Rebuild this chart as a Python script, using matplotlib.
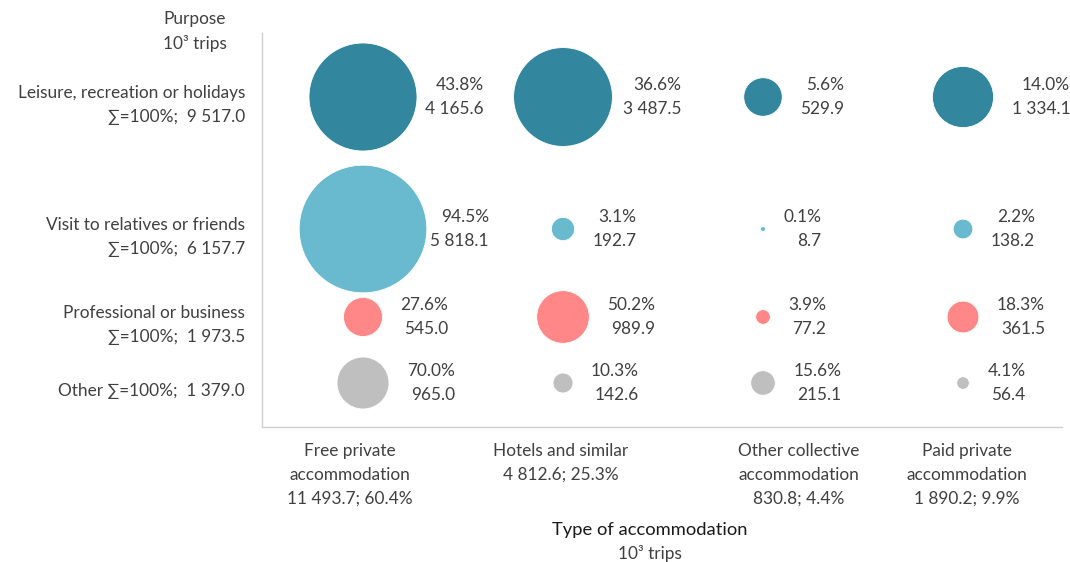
import numpy as np
import matplotlib
matplotlib.use('Agg')
import matplotlib.pyplot as plt

plt.rcParams['font.family'] = ['Lato', 'DejaVu Sans']

# data (10^3 trips)
purposes = ['Leisure, recreation or holidays', 'Visit to relatives or friends',
            'Professional or business', 'Other']
purpose_totals = ['9 517.0', '6 157.7', '1 973.5', '1 379.0']
accommodation = ['Free private\naccommodation', 'Hotels and similar',
                 'Other collective\naccommodation', 'Paid private\naccommodation']
accommodation_totals = ['11 493.7; 60.4%', '4 812.6; 25.3%', '830.8; 4.4%', '1 890.2; 9.9%']

leisure = [4165.6, 3487.5, 529.9, 1334.1]
visit = [5818.1, 192.7, 8.7, 138.2]
business = [545.0, 989.9, 77.2, 361.5]
other = [965.0, 142.6, 215.1, 56.4]

leisure_pct = [43.8, 36.6, 5.6, 14.0]
visit_pct = [94.5, 3.1, 0.1, 2.2]
business_pct = [27.6, 50.2, 3.9, 18.3]
other_pct = [70.0, 10.3, 15.6, 4.1]

values = [leisure, visit, business, other]
pcts = [leisure_pct, visit_pct, business_pct, other_pct]
colors = ['#32869D', '#69B9CF', '#FF8787', '#BFBFBF']

# layout
row_pos = [15, 9, 5, 2]
col_pos = [0, 1, 2, 3]
xlab_pos = [-0.065, 0.99, 2.18, 3.02]
px_area = 2.8           # bubble area in px^2 per 10^3 trips
txt = '#404040'
fs = 12.4
ls = 1.62

W, H = 1070, 562
fig = plt.figure(figsize=(W / 100, H / 100), dpi=100)
ax = fig.add_axes([262 / W, 1 - 427 / H, 800 / W, 394 / H])
ax.set_xlim(-0.505, 3.495)
ax.set_ylim(0, 394 / 22)

for spine in ['top', 'right']:
    ax.spines[spine].set_visible(False)
for spine in ['left', 'bottom']:
    ax.spines[spine].set_color('#D0D0D0')
    ax.spines[spine].set_linewidth(1.0)
ax.set_xticks([])
ax.set_yticks([])

for i in range(4):
    v = np.array(values[i])
    d_px = np.sqrt(px_area * v)
    ax.scatter(col_pos, [row_pos[i]] * 4, s=(d_px * 0.72) ** 2, color=colors[i],
               edgecolor='white', linewidth=0.6, zorder=3)
    for j in range(4):
        r = d_px[j] / 2
        gap = np.clip(18 - 0.5 * (r - 35), 3, 18)
        lab = f'{pcts[i][j]:.1f}%\n' + f'{v[j]:,.1f}'.replace(',', ' ')
        ax.annotate(lab, xy=(col_pos[j], row_pos[i]), xytext=(r + gap, 0),
                    textcoords='offset pixels', ha='left', va='center',
                    multialignment='right', fontsize=fs, color=txt,
                    linespacing=ls)

# row labels
for i in range(4):
    if purposes[i] == 'Other':
        lab = f'Other \u2211=100%;  {purpose_totals[i]}'
    else:
        lab = f'{purposes[i]}\n\u2211=100%;  {purpose_totals[i]}'
    ax.annotate(lab, xy=(0, row_pos[i]), xycoords=('axes fraction', 'data'),
                xytext=(-17, -8), textcoords='offset pixels', ha='right', va='center',
                multialignment='right', fontsize=fs, color=txt, linespacing=ls)

# column labels
for j in range(4):
    lab = accommodation[j] + '\n' + accommodation_totals[j]
    ax.annotate(lab, xy=(xlab_pos[j], 0), xycoords=('data', 'axes fraction'),
                xytext=(0, -16), textcoords='offset pixels', ha='center', va='top',
                multialignment='center', fontsize=fs, color=txt, linespacing=ls)

fig.text(195 / W, 1 - 19 / H, 'Purpose', ha='center', va='center', fontsize=fs, color=txt)
fig.text(195 / W, 1 - 44 / H, '10³ trips', ha='center', va='center', fontsize=fs, color=txt)
fig.text(650 / W, 1 - 530 / H, 'Type of accommodation', ha='center', va='center',
         fontsize=13.2, color='#1a1a1a')
fig.text(650 / W, 1 - 553 / H, '10³ trips', ha='center', va='center', fontsize=fs, color=txt)

fig.savefig('out.png', dpi=100)
